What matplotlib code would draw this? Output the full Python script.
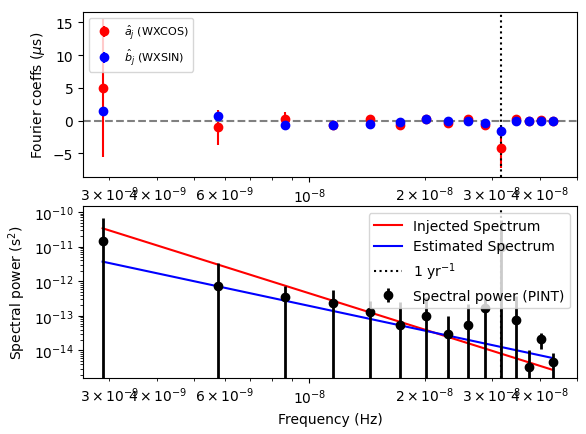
import numpy as np
import matplotlib
matplotlib.use("Agg")
import matplotlib.pyplot as plt
from matplotlib.ticker import FuncFormatter, MultipleLocator

f0 = 1 / (11 * 365.25 * 86400)
harm = np.arange(1, 16)
freqs = harm * f0

a_vals = [5.0, -1.0, 0.3, -0.6, 0.3, -0.6, 0.3, -0.3, 0.3, -0.7, -4.1, 0.3, -0.1, 0.1, -0.1]
a_err = [10.5, 2.7, 1.0, 0.4, 0.4, 0.4, 0.3, 0.3, 0.3, 0.3, 3.2, 0.3, 0.3, 0.3, 0.3]
b_vals = [1.5, 0.7, -0.7, -0.6, -0.5, -0.2, 0.3, 0.0, -0.1, -0.3, -1.5, 0.0, -0.1, 0.0, -0.1]
b_err = [0.5, 0.4, 0.3, 0.3, 0.3, 0.3, 0.3, 0.3, 0.3, 0.3, 0.8, 0.3, 0.3, 0.3, 0.3]

power = [1.45e-11, 7.4e-13, 3.5e-13, 2.3e-13, 1.26e-13, 5.6e-14, 9.6e-14, 3e-14,
         5.6e-14, 1.7e-13, 1e-11, 7.4e-14, 3.3e-15, 2.1e-14, 4.6e-15]
power_err = [5.2e-11, 2.6e-12, 3.9e-13, 3.2e-13, 1.5e-13, 2.0e-13, 2.5e-13, 7e-14,
             1.6e-13, 3.0e-13, 5e-11, 2.9e-13, 6.7e-15, 1e-14, 4e-15]

inj_amp, inj_gamma = 3.4e-11, 3.48
est_amp, est_gamma = 3.7e-12, 2.37

fig = plt.figure(figsize=(5.86, 4.35), dpi=100)
ax1 = fig.add_axes([83/586, 1-178/435, 494/586, 165/435])
ax2 = fig.add_axes([83/586, 1-379/435, 494/586, 172/435])
yr = 1 / (365.25 * 86400)

ax1.errorbar(freqs, a_vals, yerr=a_err, fmt='o', color='red', label=r'$\hat{a}_j$ (WXCOS)')
ax1.errorbar(freqs, b_vals, yerr=b_err, fmt='o', color='blue', label=r'$\hat{b}_j$ (WXSIN)')
ax1.axhline(0, color='grey', ls='--')
ax1.axvline(yr, color='k', ls=':')
ax1.set_xscale('log')
ax1.set_xlim(2.56e-9, 5.0e-8)
ax1.set_ylim(-8.6, 16.6)
ax1.yaxis.set_major_locator(MultipleLocator(5))
ax1.set_ylabel(r'Fourier coeffs ($\mu$s)')
ax1.legend(loc='upper left', fontsize=8)

fl = np.array([freqs[0], freqs[-1]])
ax2.plot(fl, inj_amp * (fl / f0) ** -inj_gamma, color='red', label='Injected Spectrum')
ax2.plot(fl, est_amp * (fl / f0) ** -est_gamma, color='blue', label='Estimated Spectrum')
ax2.axvline(yr, color='k', ls=':', label=r'1 yr$^{-1}$')
ax2.errorbar(freqs, power, yerr=power_err, fmt='o', color='k', lw=2, label='Spectral power (PINT)')
ax2.set_xscale('log')
ax2.set_yscale('log')
ax2.set_xlim(2.56e-9, 5.0e-8)
ax2.set_ylim(1.6e-15, 1.5e-10)
ax2.set_xlabel('Frequency (Hz)')
ax2.set_ylabel(r'Spectral power (s$^2$)')
ax2.legend(loc='upper right')

def minor_fmt(x, pos):
    e = int(np.floor(np.log10(x) + 1e-9))
    m = int(round(x / 10**e))
    if m in (2, 3, 4, 6):
        return r'$\mathdefault{%d\times10^{%d}}$' % (m, e)
    return ''

for ax in (ax1, ax2):
    ax.xaxis.set_minor_formatter(FuncFormatter(minor_fmt))

fig.savefig('out.png')
